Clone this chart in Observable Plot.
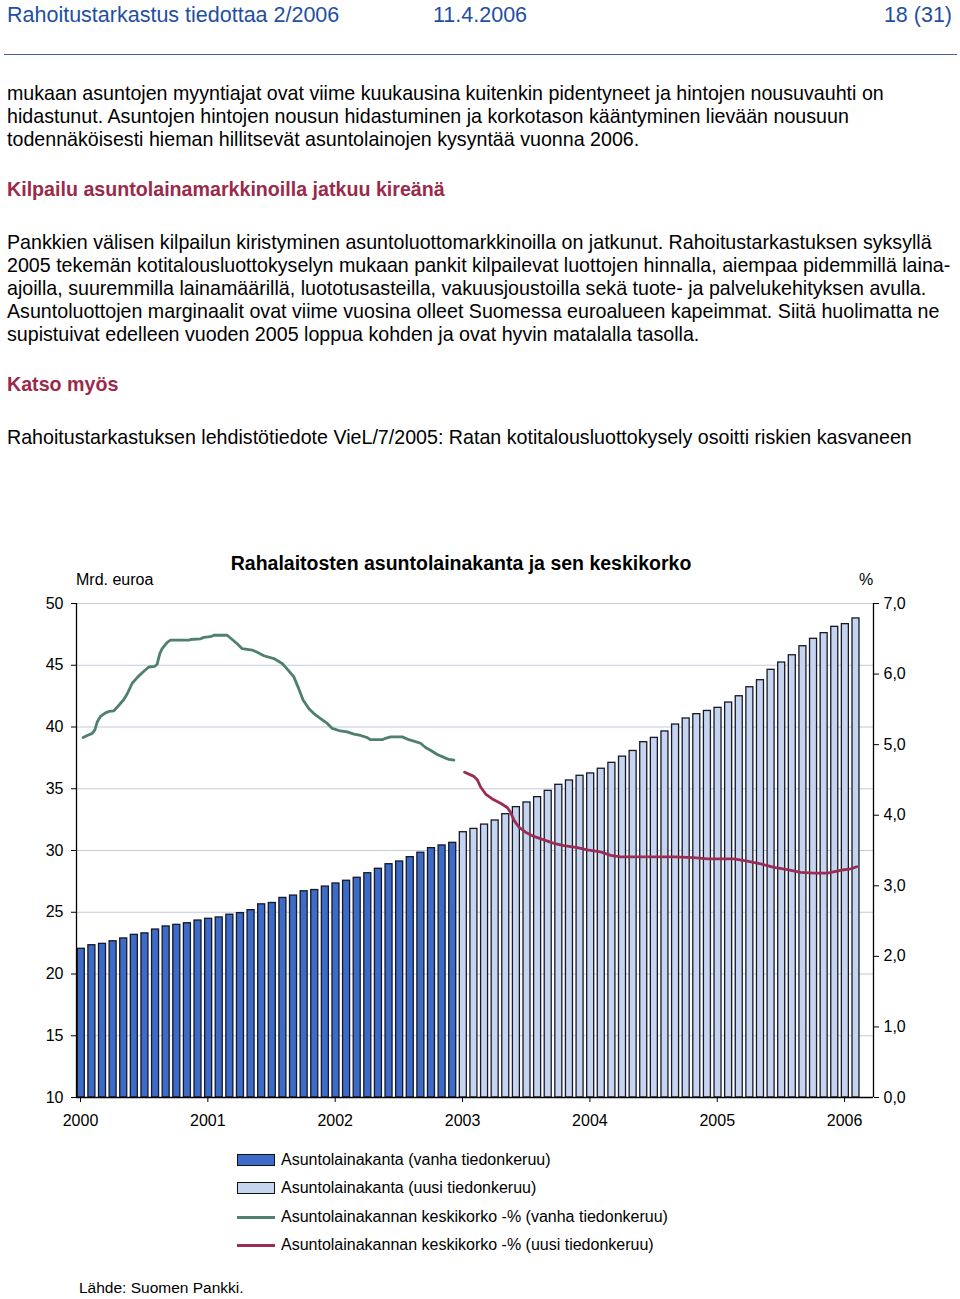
<!DOCTYPE html>
<html><head><meta charset="utf-8">
<script src="https://cdn.jsdelivr.net/npm/d3@7"></script>
<script src="https://cdn.jsdelivr.net/npm/@observablehq/plot@0.6"></script>
<style>
body{margin:0;background:#fff;font-family:"Liberation Sans",Arial,sans-serif;}
#page{position:relative;width:960px;height:1299px;overflow:hidden;background:#fff;}
.t{position:absolute;white-space:nowrap;line-height:23px;}
.hd{color:#1f4f9f;font-size:21.5px;line-height:24px;top:3px;}
.p{font-size:19.65px;color:#000;left:7px;}
.h{font-size:19.65px;font-weight:bold;color:#9b2a4a;left:7px;}
.c{font-size:16px;color:#000;line-height:18px;}
.sw{position:absolute;left:237px;width:36px;height:10px;border:1px solid #111;}
.ln{position:absolute;left:237px;width:38px;height:3px;}
#chart{position:absolute;left:0;top:590px;}
</style></head>
<body><div id="page">
<div class="t hd" style="left:7px">Rahoitustarkastus tiedottaa 2/2006</div>
<div class="t hd" style="left:433px">11.4.2006</div>
<div class="t hd" style="right:8px">18 (31)</div>
<div style="position:absolute;left:4px;width:953px;top:54px;height:0;border-top:1.5px solid #3d62a6;"></div>

<div class="t p" style="top:82px">mukaan asuntojen myyntiajat ovat viime kuukausina kuitenkin pidentyneet ja hintojen nousuvauhti on</div>
<div class="t p" style="top:105px">hidastunut. Asuntojen hintojen nousun hidastuminen ja korkotason kääntyminen lievään nousuun</div>
<div class="t p" style="top:128px">todennäköisesti hieman hillitsevät asuntolainojen kysyntää vuonna 2006.</div>
<div class="t h" style="top:178px">Kilpailu asuntolainamarkkinoilla jatkuu kireänä</div>
<div class="t p" style="top:231px">Pankkien välisen kilpailun kiristyminen asuntoluottomarkkinoilla on jatkunut. Rahoitustarkastuksen syksyllä</div>
<div class="t p" style="top:254px">2005 tekemän kotitalousluottokyselyn mukaan pankit kilpailevat luottojen hinnalla, aiempaa pidemmillä laina-</div>
<div class="t p" style="top:277px">ajoilla, suuremmilla lainamäärillä, luototusasteilla, vakuusjoustoilla sekä tuote- ja palvelukehityksen avulla.</div>
<div class="t p" style="top:300px">Asuntoluottojen marginaalit ovat viime vuosina olleet Suomessa euroalueen kapeimmat. Siitä huolimatta ne</div>
<div class="t p" style="top:323px">supistuivat edelleen vuoden 2005 loppua kohden ja ovat hyvin matalalla tasolla.</div>
<div class="t h" style="top:373px">Katso myös</div>
<div class="t p" style="top:426px">Rahoitustarkastuksen lehdistötiedote VieL/7/2005: Ratan kotitalousluottokysely osoitti riskien kasvaneen</div>

<div class="t" style="top:552px;left:0;width:922px;text-align:center;font-size:19.5px;font-weight:bold;">Rahalaitosten asuntolainakanta ja sen keskikorko</div>
<div class="t c" style="top:571px;left:76px">Mrd. euroa</div>
<div class="t c" style="top:571px;left:859px">%</div>
<div id="chart"></div>

<div class="sw" style="top:1154px;background:#3d6cc8"></div>
<div class="sw" style="top:1182px;background:#c5d5f0"></div>
<div class="ln" style="top:1216px;background:#4f7f6e"></div>
<div class="ln" style="top:1244px;background:#9b2d55"></div>
<div class="t c" style="left:281px;top:1151px">Asuntolainakanta (vanha tiedonkeruu)</div>
<div class="t c" style="left:281px;top:1179px">Asuntolainakanta (uusi tiedonkeruu)</div>
<div class="t c" style="left:281px;top:1208px">Asuntolainakannan keskikorko -% (vanha tiedonkeruu)</div>
<div class="t c" style="left:281px;top:1236px">Asuntolainakannan keskikorko -% (uusi tiedonkeruu)</div>
<div class="t c" style="left:79px;top:1279px;font-size:15.5px">Lähde: Suomen Pankki.</div>
</div>
<script>
// Asuntolainakanta, mrd. euroa (monthly), old collection Jan 2000 – Dec 2002
const oldStock = [22.04,22.33,22.44,22.65,22.88,23.17,23.29,23.6,23.85,23.98,24.11,24.33,
  24.47,24.58,24.8,24.93,25.17,25.64,25.75,26.16,26.35,26.7,26.8,27.08,
  27.33,27.55,27.79,28.16,28.52,28.89,29.11,29.46,29.82,30.19,30.41,30.62];
// new collection Jan 2003 – Feb 2006
const newStock = [31.48,31.75,32.1,32.43,32.94,33.51,33.89,34.32,34.83,35.32,35.67,36.05,
  36.24,36.62,37.1,37.6,38.06,38.77,39.12,39.64,40.2,40.69,41.04,41.3,
  41.55,41.98,42.49,43.22,43.79,44.63,45.22,45.81,46.54,47.14,47.6,48.11,
  48.33,48.79];
const oldStart = "2000-01", newStart = "2003-01";

// Keskikorko -% : position in months since Jan 2000, and rate
const oldRateMonth = [0.63,1.01,1.48,1.73,1.95,2.26,2.73,3.05,3.52,3.83,4.46,4.78,5.25,5.78,6.35,6.82,7.38,7.6,7.85,8.07,8.55,8.86,10.59,10.74,11.69,12.0,12.63,12.94,14.2,14.67,15.14,15.61,16.56,17.03,17.66,18.6,19.38,19.86,20.48,20.95,21.36,21.9,22.37,23.0,23.63,24.1,24.72,25.51,26.14,26.77,27.4,27.71,28.81,29.12,29.59,30.69,31.32,31.79,32.42,32.89,33.36,33.99,34.62,35.09,35.56];
const oldRate = [5.10,5.13,5.16,5.21,5.32,5.40,5.45,5.47,5.48,5.53,5.64,5.72,5.87,5.96,6.04,6.10,6.11,6.14,6.29,6.36,6.45,6.48,6.48,6.49,6.50,6.52,6.53,6.55,6.55,6.49,6.43,6.36,6.34,6.31,6.26,6.22,6.15,6.07,5.96,5.79,5.63,5.51,5.44,5.37,5.30,5.23,5.20,5.18,5.15,5.13,5.10,5.07,5.07,5.09,5.11,5.11,5.07,5.05,5.02,4.96,4.92,4.86,4.82,4.79,4.78];
const newRateMonth = [36.57,37.45,37.77,38.08,38.55,39.18,39.96,40.59,40.9,41.22,41.69,42.32,43.1,44.04,44.99,45.93,47.19,48.13,49.39,50.33,51.27,53.16,56.3,58.18,59.44,61.95,63.21,64.47,65.72,66.98,68.24,69.49,70.75,72.0,72.95,73.52];
const newRate = [4.61,4.55,4.50,4.40,4.30,4.23,4.17,4.11,4.04,3.93,3.83,3.76,3.70,3.65,3.60,3.57,3.54,3.51,3.48,3.43,3.41,3.41,3.41,3.40,3.38,3.38,3.35,3.31,3.26,3.23,3.19,3.18,3.18,3.22,3.24,3.27];

const leftTicks = [10,15,20,25,30,35,40,45,50];
const rightTicks = [0,1,2,3,4,5,6,7];
const yearTicks = [2000,2001,2002,2003,2004,2005,2006];

const colOld = "#3d6cc8", colNew = "#c5d5f0", lineOld = "#4f7f6e", lineNew = "#9b2d55";

// build tables
const monthIndex = s => { const [y,m] = s.split("-").map(Number); return (y-2000)*12 + (m-1); };
const bars = [
  ...oldStock.map((v,i) => ({m: monthIndex(oldStart)+i, v, c: colOld})),
  ...newStock.map((v,i) => ({m: monthIndex(newStart)+i, v, c: colNew}))
];
const yr = m => 2000 + m/12;
const rToY = r => 10 + r*40/7; // right axis (0–7 %) onto left axis (10–50)
const oldLine = oldRateMonth.map((m,i) => ({x: yr(m), y: rToY(oldRate[i])}));
const newLine = newRateMonth.map((m,i) => ({x: yr(m), y: rToY(newRate[i])}));

const xMax = 2000 + 75.1/12;
const fmtPct = v => (Math.round((v-10)*7/40*10)/10).toFixed(1).replace(".", ",");

const chart = Plot.plot({
  width: 960, height: 545,
  marginTop: 13, marginBottom: 38, marginLeft: 76, marginRight: 87,
  style: {fontFamily: "'Liberation Sans', Arial, sans-serif", fontSize: "16px", color: "#000", background: "transparent", overflow: "visible"},
  x: {domain: [2000, xMax], axis: null},
  y: {domain: [10, 50], axis: null},
  marks: [
    Plot.ruleY(leftTicks.slice(1), {stroke: "#c3cbd8", strokeWidth: 1.2}),
    Plot.rectY(bars, {x1: d => yr(d.m + 0.12), x2: d => yr(d.m + 0.78), y1: 10, y2: "v", fill: "c", stroke: "#15182a", strokeWidth: 1.3}),
    Plot.line(oldLine, {x: "x", y: "y", stroke: lineOld, strokeWidth: 2.8}),
    Plot.line(newLine, {x: "x", y: "y", stroke: lineNew, strokeWidth: 2.8}),
    Plot.ruleX([2000], {y1: 10, y2: 50, stroke: "#000", strokeWidth: 1.3}),
    Plot.ruleX([xMax], {y1: 10, y2: 50, stroke: "#000", strokeWidth: 1.3}),
    Plot.ruleY([10], {stroke: "#000", strokeWidth: 1.3}),
    Plot.axisY({anchor: "left", ticks: leftTicks, tickSize: 5, tickPadding: 8, tickFormat: d => d, fontSize: 16, label: null}),
    Plot.axisY({anchor: "right", ticks: rightTicks.map(rToY), tickSize: 5, tickPadding: 5, tickFormat: fmtPct, fontSize: 16, label: null}),
    Plot.axisX({ticks: yearTicks, tickSize: 5, tickPadding: 12, tickFormat: d => String(d), fontSize: 16, dx: 4, label: null})
  ]
});
document.getElementById("chart").appendChild(chart);
</script>
</body></html>
